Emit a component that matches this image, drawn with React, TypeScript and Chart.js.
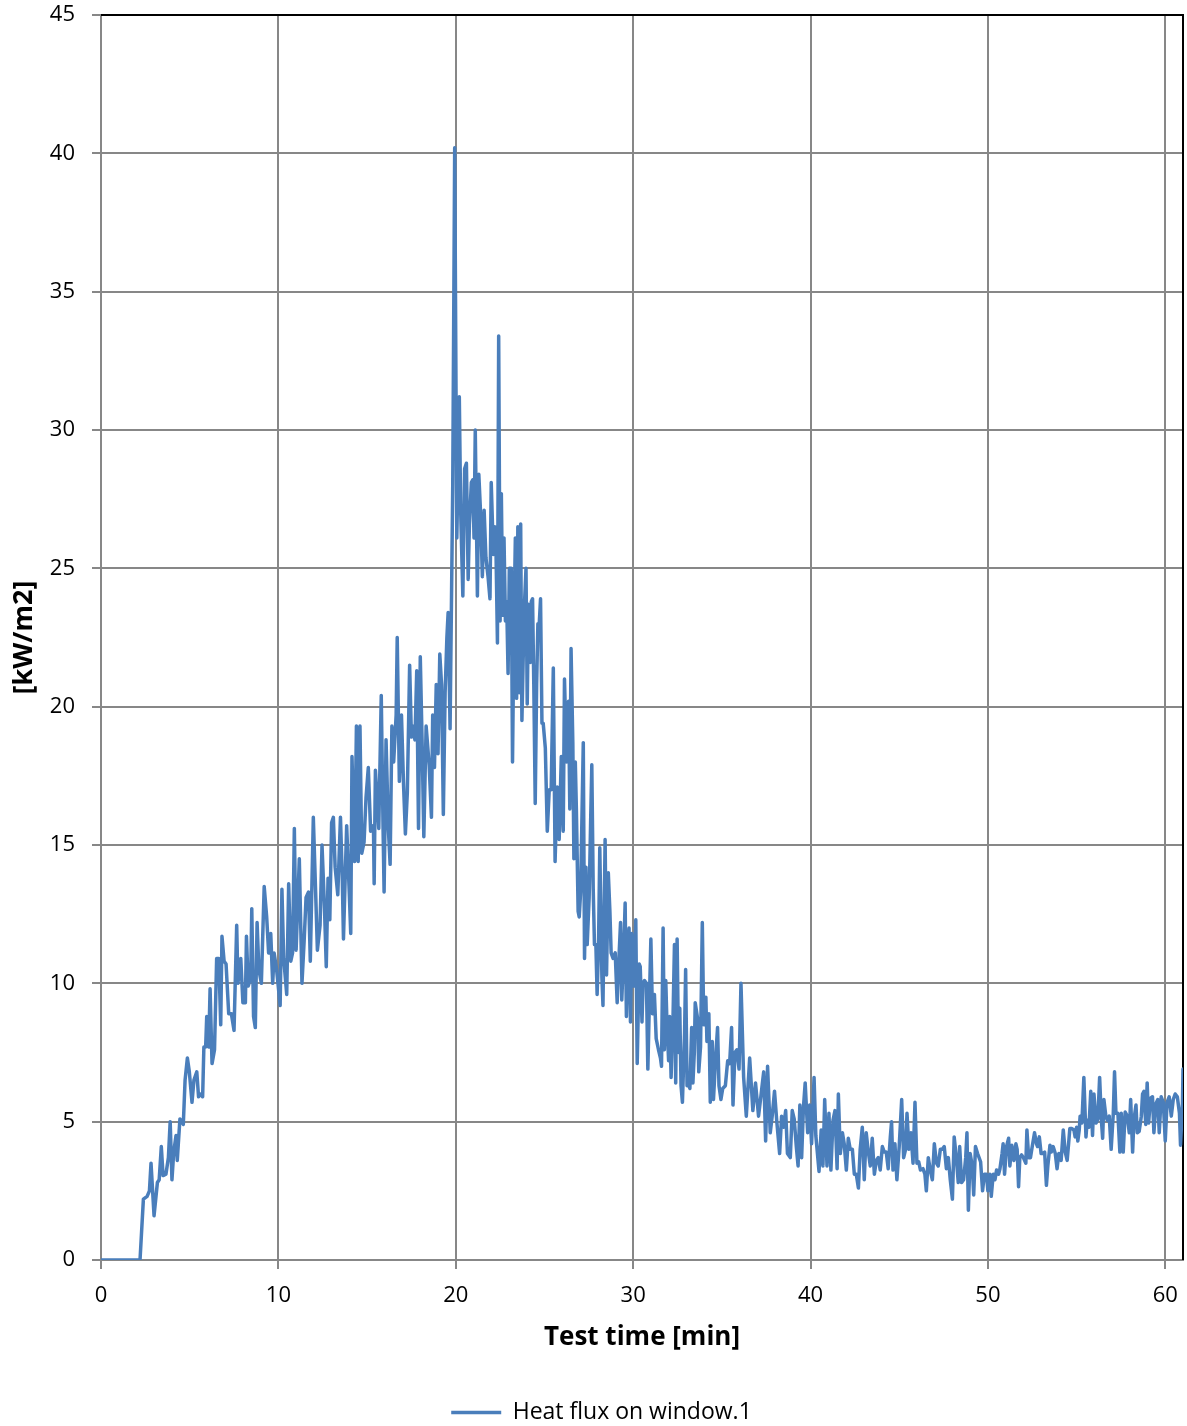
import { useEffect, useRef } from "react";
import { Chart, registerables } from "chart.js";

Chart.register(...registerables);

// Axis setup
const X_MIN = 0;
const X_MAX = 61;
const X_STEP = 10;
const Y_MIN = 0;
const Y_MAX = 45;
const Y_STEP = 5;

const X_TITLE = "Test time [min]";
const Y_TITLE = "[kW/m2]";
const SERIES_LABEL = "Heat flux on window.1";

// Measured heat flux, [time in min, kW/m2], split by fire phase
const PRE_IGNITION: [number, number][] = [
  [0, 0], [0.5, 0], [1.0, 0], [1.5, 0], [2.0, 0], [2.2, 0],
];

const GROWTH: [number, number][] = [
  [2.39, 2.2], [2.6, 2.3], [2.73, 2.5], [2.82, 3.5], [2.99, 1.6], [3.18, 2.8], [3.28, 2.9], [3.4, 4.1],
  [3.5, 3.05], [3.66, 3.1], [3.8, 3.7], [3.9, 5.0], [4.0, 2.9], [4.1, 3.9], [4.23, 4.5], [4.3, 3.6],
  [4.45, 5.1], [4.64, 4.9], [4.74, 6.5], [4.87, 7.3], [4.98, 6.8], [5.13, 5.7], [5.24, 6.5], [5.4, 6.8],
  [5.5, 5.9], [5.6, 6.0], [5.73, 5.9], [5.8, 7.7], [5.9, 7.7], [5.96, 8.8], [6.07, 7.7], [6.15, 9.8],
  [6.26, 7.1], [6.4, 7.6], [6.52, 10.9], [6.64, 10.9], [6.75, 8.5], [6.82, 11.7], [6.94, 10.8], [7.05, 10.7],
  [7.2, 8.9], [7.35, 8.9], [7.5, 8.3], [7.65, 12.1], [7.72, 10.0], [7.88, 10.9], [8.0, 9.3], [8.14, 9.3],
  [8.2, 11.7], [8.3, 9.9], [8.44, 10.2], [8.5, 12.7], [8.6, 8.8], [8.7, 8.4], [8.8, 12.2], [8.9, 10.5],
  [9.04, 10.0], [9.2, 13.5], [9.34, 12.4], [9.45, 11.1], [9.57, 11.8], [9.68, 10.0], [9.76, 11.1], [9.9, 10.5],
  [10.1, 9.2], [10.2, 13.4], [10.3, 10.9], [10.47, 9.6], [10.58, 13.6], [10.7, 10.8], [10.8, 11.1], [10.9, 15.6],
  [11.0, 11.2], [11.18, 14.5], [11.33, 10.0], [11.45, 11.5], [11.56, 13.1], [11.7, 13.3], [11.8, 10.8], [11.97, 16.0],
  [12.1, 13.3], [12.2, 11.2], [12.35, 12.1], [12.46, 15.0], [12.6, 12.7], [12.7, 10.6], [12.8, 13.8], [12.9, 12.3],
  [13.0, 15.8], [13.1, 16.0], [13.2, 14.2], [13.35, 13.2], [13.5, 16.0], [13.6, 13.9], [13.67, 11.6], [13.85, 15.7],
  [14.0, 13.2], [14.08, 11.8], [14.15, 18.2], [14.3, 14.4], [14.4, 19.3], [14.5, 14.4], [14.6, 19.3], [14.7, 14.7],
  [14.83, 15.1], [14.94, 16.7], [15.07, 17.8], [15.2, 15.5], [15.36, 15.7], [15.4, 13.6], [15.47, 17.7], [15.66, 15.6],
  [15.8, 20.4], [15.9, 15.7], [15.96, 13.3], [16.07, 18.8], [16.2, 15.6], [16.3, 14.3], [16.4, 19.3], [16.5, 18.0],
  [16.64, 19.7], [16.7, 22.5], [16.82, 17.3], [16.94, 19.7], [17.05, 17.3], [17.16, 15.4], [17.27, 16.9], [17.4, 21.5],
  [17.5, 18.9], [17.57, 19.3], [17.7, 18.8], [17.8, 21.3], [17.9, 15.6], [18.0, 21.8], [18.1, 18.8], [18.2, 15.3],
  [18.33, 19.3], [18.5, 17.9], [18.63, 16.0], [18.7, 19.7], [18.8, 17.8], [18.9, 20.8], [19.0, 18.3], [19.1, 21.9],
  [19.2, 20.8], [19.3, 16.1], [19.4, 20.5], [19.5, 22.5], [19.57, 23.4], [19.68, 19.2], [19.83, 28.0],
];

const PEAK: [number, number][] = [
  [19.94, 40.2], [20.06, 26.1], [20.13, 28.6], [20.2, 31.2], [20.28, 27.0], [20.4, 24.0], [20.5, 28.6], [20.6, 28.8],
  [20.7, 24.6], [20.77, 26.6], [20.88, 28.1], [20.96, 28.2], [21.03, 26.1], [21.1, 30.0], [21.22, 24.0], [21.3, 28.4],
  [21.4, 27.0], [21.5, 24.7], [21.6, 27.1], [21.7, 25.4], [21.82, 24.7], [21.93, 23.9], [22.0, 28.1], [22.12, 25.5],
  [22.2, 26.5], [22.27, 25.6], [22.35, 22.3], [22.42, 33.4], [22.5, 23.1], [22.57, 27.7], [22.65, 23.3], [22.72, 26.1],
  [22.8, 23.1], [22.87, 23.8], [22.95, 21.2], [23.02, 25.0], [23.13, 25.0], [23.2, 18.0], [23.28, 22.9], [23.36, 26.1],
  [23.43, 20.3], [23.5, 26.5], [23.58, 20.5], [23.66, 26.6], [23.73, 19.5], [23.8, 21.7], [23.88, 23.8], [23.96, 25.0],
  [24.03, 20.1], [24.1, 23.7], [24.2, 21.6], [24.26, 23.8], [24.33, 23.9], [24.4, 20.8], [24.48, 16.5], [24.56, 20.8],
  [24.63, 23.0], [24.7, 22.9], [24.78, 23.9], [24.86, 19.4], [24.93, 19.4],
];

const DECAY: [number, number][] = [
  [25.05, 18.5], [25.16, 15.5], [25.27, 17.0], [25.38, 17.0], [25.5, 21.4], [25.6, 14.4], [25.72, 17.1], [25.83, 15.2],
  [25.95, 18.2], [26.06, 15.5], [26.13, 21.0], [26.25, 18.0], [26.36, 20.2], [26.43, 16.3], [26.5, 22.1], [26.6, 18.7],
  [26.66, 14.5], [26.74, 18.0], [26.8, 16.3], [26.9, 12.6], [26.96, 12.4], [27.04, 13.3], [27.19, 18.7], [27.26, 10.9],
  [27.34, 14.2], [27.41, 11.4], [27.52, 13.1], [27.6, 15.7], [27.67, 17.9], [27.75, 13.4], [27.82, 11.4], [27.9, 11.4],
  [27.97, 9.6], [28.05, 11.4], [28.12, 14.9], [28.24, 10.2], [28.3, 9.2], [28.42, 15.2], [28.5, 10.3], [28.6, 14.0],
  [28.69, 12.6], [28.76, 11.1], [28.87, 10.9], [28.99, 11.1], [29.1, 9.3], [29.2, 10.9], [29.29, 12.2], [29.36, 9.4],
  [29.47, 11.2], [29.55, 12.9], [29.62, 8.8], [29.7, 11.2], [29.77, 12.0], [29.85, 8.6], [29.92, 11.8], [30.04, 9.9],
  [30.15, 12.3], [30.23, 7.1], [30.34, 10.7], [30.4, 10.6], [30.5, 8.6], [30.56, 10.0], [30.64, 10.1], [30.75, 10.0],
  [30.83, 6.9], [30.94, 10.0], [31.0, 11.6], [31.09, 8.9], [31.2, 9.6], [31.3, 8.0], [31.43, 7.6], [31.54, 7.3],
  [31.6, 7.0], [31.69, 12.0], [31.76, 7.6], [31.84, 10.1], [31.9, 8.7], [32.0, 7.2], [32.06, 8.8], [32.14, 6.6],
  [32.25, 8.8], [32.33, 11.4], [32.4, 6.4], [32.48, 11.6], [32.56, 7.5], [32.63, 9.1], [32.7, 6.3], [32.78, 5.7],
  [32.9, 8.2], [32.96, 10.5], [33.04, 6.3], [33.15, 6.3], [33.2, 6.2], [33.3, 8.4], [33.37, 6.4], [33.45, 7.5],
  [33.5, 9.3], [33.64, 8.7], [33.7, 6.8], [33.8, 7.7], [33.9, 12.2], [33.98, 8.5], [34.1, 9.5], [34.16, 7.9],
  [34.27, 8.9], [34.35, 5.7], [34.46, 7.9], [34.53, 5.8], [34.65, 7.3], [34.76, 8.4], [34.84, 6.3], [34.95, 5.8],
  [35.05, 6.2], [35.2, 6.3], [35.33, 7.2], [35.44, 7.1], [35.55, 8.4], [35.63, 5.6], [35.74, 7.5], [35.85, 7.6],
  [35.97, 6.9], [36.08, 10.0], [36.23, 6.6], [36.38, 5.2], [36.57, 7.3], [36.75, 5.4], [36.9, 6.4], [37.07, 5.2],
  [37.2, 5.9], [37.36, 6.8], [37.47, 4.3], [37.58, 7.0], [37.73, 4.6], [37.84, 5.2], [37.97, 6.1], [38.1, 5.0],
  [38.26, 3.85], [38.37, 5.2], [38.48, 4.8], [38.6, 5.4], [38.7, 3.85], [38.86, 3.7], [38.97, 5.4], [39.08, 5.1],
  [39.2, 4.1], [39.3, 3.4], [39.4, 5.6], [39.5, 3.7], [39.6, 5.5], [39.7, 6.4], [39.84, 4.6], [39.95, 5.6],
];

const COOLING: [number, number][] = [
  [40.06, 4.2], [40.2, 6.6], [40.3, 4.5], [40.48, 3.2], [40.6, 4.7], [40.7, 3.4], [40.8, 5.8], [40.93, 3.4],
  [41.04, 5.3], [41.15, 3.25], [41.27, 5.06], [41.38, 5.4], [41.5, 3.3], [41.57, 6.0], [41.68, 3.85], [41.8, 4.6],
  [41.9, 4.2], [42.02, 3.25], [42.13, 4.4], [42.24, 4.0], [42.36, 4.0], [42.47, 3.1], [42.58, 3.1], [42.7, 2.6],
  [42.8, 4.0], [42.92, 4.8], [43.03, 2.9], [43.14, 4.6], [43.26, 3.9], [43.37, 3.4], [43.48, 4.4], [43.6, 3.1],
  [43.71, 3.6], [43.82, 3.7], [43.93, 3.25], [44.05, 4.1], [44.16, 3.9], [44.27, 3.9], [44.38, 3.3], [44.5, 4.45],
  [44.57, 5.0], [44.65, 3.25], [44.76, 4.2], [44.87, 2.9], [45.0, 4.1], [45.14, 5.8], [45.25, 3.7], [45.36, 4.0],
  [45.44, 5.3], [45.55, 4.0], [45.66, 4.6], [45.78, 3.5], [45.89, 5.7], [46.0, 3.5], [46.1, 3.55], [46.2, 3.25],
  [46.34, 3.3], [46.45, 3.1], [46.53, 2.5], [46.64, 3.7], [46.75, 3.25], [46.87, 2.9], [46.98, 4.2], [47.1, 3.5],
  [47.2, 3.4], [47.32, 4.0], [47.43, 4.0], [47.54, 4.1], [47.66, 3.3], [47.77, 3.7], [47.88, 2.9], [48.0, 2.2],
  [48.1, 4.45], [48.22, 3.7], [48.33, 2.8], [48.41, 4.1], [48.52, 2.8], [48.63, 2.9], [48.75, 3.7], [48.82, 4.6],
  [48.9, 1.8], [49.0, 3.85], [49.12, 3.4], [49.2, 2.35], [49.3, 4.1], [49.42, 3.85], [49.59, 3.55], [49.7, 2.5],
  [49.8, 3.1], [49.92, 3.1], [50.0, 2.5], [50.11, 3.1], [50.19, 2.3], [50.3, 3.1], [50.4, 2.9], [50.49, 3.25],
  [50.6, 3.1], [50.68, 3.3], [50.8, 3.85], [50.86, 4.2], [50.94, 3.1], [51.05, 4.1], [51.17, 4.4], [51.24, 3.4],
  [51.35, 4.15], [51.47, 3.6], [51.58, 4.2], [51.65, 4.0], [51.73, 2.65], [51.8, 3.7], [51.9, 3.8], [52.0, 3.7],
  [52.14, 3.5], [52.2, 4.7], [52.3, 3.7], [52.4, 3.7], [52.5, 4.1], [52.63, 4.6], [52.74, 4.2], [52.8, 4.1],
  [52.9, 4.45], [53.0, 3.85], [53.08, 3.85], [53.2, 3.9], [53.3, 2.7], [53.38, 3.4], [53.5, 4.15], [53.57, 3.9],
  [53.68, 4.1], [53.8, 3.85], [53.9, 3.3], [54.0, 3.85], [54.13, 3.6], [54.25, 4.7], [54.36, 3.9], [54.47, 3.6],
  [54.55, 4.2], [54.62, 4.75], [54.74, 4.75], [54.85, 4.7], [54.92, 4.45],
];

const LATE_RISE: [number, number][] = [
  [55.0, 4.8], [55.07, 4.3], [55.15, 4.7], [55.2, 5.2], [55.3, 4.95], [55.41, 6.6], [55.53, 4.45], [55.6, 5.05],
  [55.7, 4.8], [55.8, 6.1], [55.9, 4.5], [55.98, 6.0], [56.1, 4.95], [56.2, 5.1], [56.3, 6.6], [56.4, 5.05],
  [56.47, 4.4], [56.54, 5.8], [56.65, 5.2], [56.73, 5.05], [56.84, 5.2], [56.95, 4.0], [57.07, 5.3], [57.14, 6.8],
  [57.22, 5.3], [57.33, 5.3], [57.44, 3.9], [57.52, 5.3], [57.63, 3.9], [57.74, 5.35], [57.86, 5.2], [57.97, 4.6],
  [58.05, 5.8], [58.16, 3.9], [58.23, 5.05], [58.35, 5.6], [58.42, 4.6], [58.53, 4.65], [58.65, 5.2], [58.72, 6.0],
  [58.8, 6.1], [58.9, 4.9], [58.98, 6.4], [59.06, 4.95], [59.17, 5.85], [59.28, 5.9], [59.36, 4.6], [59.47, 5.65],
  [59.58, 5.8], [59.66, 4.6], [59.77, 5.9], [59.89, 5.7], [60.0, 4.3], [60.1, 5.7], [60.22, 5.9], [60.34, 5.2],
  [60.45, 5.8], [60.56, 6.0], [60.68, 5.9], [60.8, 5.3], [60.86, 4.15], [60.97, 5.65], [61.0, 6.9],
];

const FONT_FAMILY = "'Open Sans', 'Noto Sans', sans-serif";
const LINE_COLOR = "#4a7ebb";
const GRID_COLOR = "#878787";

// Black frame along the top and right edges of the plot area
const plotFrame = {
  id: "plotFrame",
  afterLayout(chart: any) {
    // centre the legend under the plot area rather than the whole canvas
    if (chart.legend) chart.legend.left += 20;
  },
  beforeDatasetsDraw(chart: any) {
    const { ctx, chartArea } = chart;
    const { left, top, right, bottom } = chartArea;
    ctx.save();
    ctx.strokeStyle = "#000000";
    ctx.lineWidth = 2;
    ctx.beginPath();
    ctx.moveTo(left, top);
    ctx.lineTo(right, top);
    ctx.lineTo(right, bottom);
    ctx.stroke();
    ctx.restore();
  },
};

export default function App() {
  const canvasRef = useRef<HTMLCanvasElement | null>(null);

  useEffect(() => {
    document.body.style.margin = "0";
    const canvas = canvasRef.current;
    if (!canvas) return;

    const points = [...PRE_IGNITION, ...GROWTH, ...PEAK, ...DECAY, ...COOLING, ...LATE_RISE].map(
      ([x, y]) => ({ x, y })
    );

    const chart = new Chart(canvas, {
      type: "line",
      data: {
        datasets: [
          {
            label: SERIES_LABEL,
            data: points,
            borderColor: LINE_COLOR,
            backgroundColor: LINE_COLOR,
            borderWidth: 3.5,
            pointRadius: 0,
            pointHoverRadius: 0,
            tension: 0,
            fill: false,
            borderJoinStyle: "round",
            borderCapStyle: "round",
          },
        ],
      },
      options: {
        animation: false,
        responsive: false,
        events: [],
        layout: { padding: { left: 0, right: 4, top: 15, bottom: -8 } },
        plugins: {
          tooltip: { enabled: false },
          legend: {
            display: true,
            position: "bottom",
            labels: {
              usePointStyle: true,
              pointStyle: "line",
              pointStyleWidth: 50,
              color: "#000000",
              padding: 4,
              font: { family: FONT_FAMILY, size: 23 },
            },
          },
        },
        scales: {
          x: {
            type: "linear",
            min: X_MIN,
            max: X_MAX,
            border: { display: true, color: GRID_COLOR, width: 2 },
            grid: { color: GRID_COLOR, lineWidth: 2, tickLength: 9, drawTicks: true },
            ticks: {
              stepSize: X_STEP,
              includeBounds: false,
              maxRotation: 0,
              padding: 14,
              color: "#000000",
              font: { family: FONT_FAMILY, size: 22 },
            },
            title: {
              display: true,
              text: X_TITLE,
              color: "#000000",
              font: { family: FONT_FAMILY, size: 26, weight: "bold" },
              padding: { top: 4, bottom: 44 },
            },
            afterFit(scale: any) {
              scale.height = 137;
              scale.paddingLeft = 0;
              scale.paddingRight = 0;
            },
          },
          y: {
            type: "linear",
            min: Y_MIN,
            max: Y_MAX,
            border: { display: true, color: GRID_COLOR, width: 2 },
            grid: { color: GRID_COLOR, lineWidth: 2, tickLength: 9, drawTicks: true },
            ticks: {
              stepSize: Y_STEP,
              padding: 17,
              color: "#000000",
              font: { family: FONT_FAMILY, size: 22 },
            },
            title: {
              display: true,
              text: Y_TITLE,
              color: "#000000",
              font: { family: FONT_FAMILY, size: 27, weight: "bold" },
              padding: { top: 8, bottom: 4 },
            },
            afterFit(scale: any) {
              scale.width = 101;
              scale.paddingTop = 0;
              scale.paddingBottom = 0;
            },
          },
        },
      } as any,
      plugins: [plotFrame],
    });

    return () => chart.destroy();
  }, []);

  return (
    <div style={{ width: 1187, height: 1426 }}>
      <canvas ref={canvasRef} width={1187} height={1426} style={{ display: "block" }} />
    </div>
  );
}
